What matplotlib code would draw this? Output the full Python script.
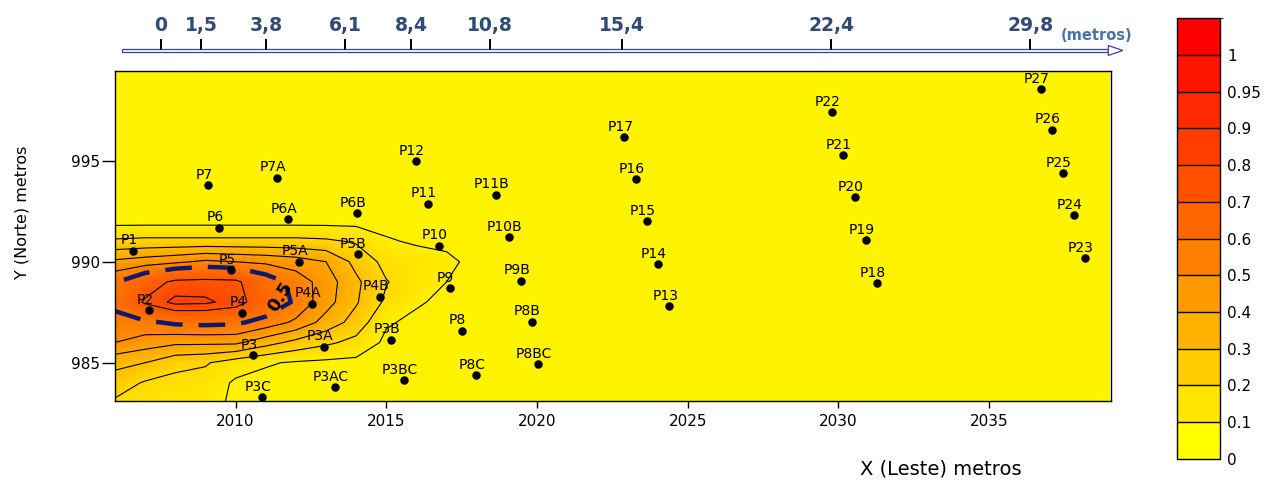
import numpy as np
import matplotlib.pyplot as plt
from matplotlib.colors import LinearSegmentedColormap, ListedColormap, BoundaryNorm
from matplotlib.patches import Rectangle, Polygon
import matplotlib.cm as cm

# pontos de amostragem (X leste, Y norte)
nomes = ['P1', 'P2', 'P3', 'P3A', 'P3AC', 'P3B', 'P3BC', 'P3C', 'P4', 'P4A', 'P4B',
         'P5', 'P5A', 'P5B', 'P6', 'P6A', 'P6B', 'P7', 'P7A', 'P8', 'P8B', 'P8BC', 'P8C',
         'P9', 'P9B', 'P10', 'P10B', 'P11', 'P11B', 'P12', 'P13', 'P14', 'P15', 'P16',
         'P17', 'P18', 'P19', 'P20', 'P21', 'P22', 'P23', 'P24', 'P25', 'P26', 'P27']
pts_x = [2006.61, 2007.14, 2010.59, 2012.93, 2013.31, 2015.16, 2015.59, 2010.89, 2010.23,
         2012.55, 2014.79, 2009.85, 2012.11, 2014.05, 2009.46, 2011.74, 2014.04, 2009.10,
         2011.39, 2017.50, 2019.82, 2020.03, 2017.99, 2017.11, 2019.46, 2016.74, 2019.07,
         2016.37, 2018.64, 2015.99, 2024.39, 2024.02, 2023.64, 2023.27, 2022.90, 2031.28,
         2030.91, 2030.55, 2030.15, 2029.78, 2038.17, 2037.80, 2037.44, 2037.07, 2036.71]
pts_y = [990.54, 987.61, 985.38, 985.80, 983.78, 986.13, 984.14, 983.28, 987.48,
         987.93, 988.26, 989.59, 990.00, 990.37, 991.68, 992.11, 992.42, 993.79,
         994.17, 986.58, 987.04, 984.91, 984.37, 988.69, 989.07, 990.79, 991.22,
         992.88, 993.33, 994.97, 987.80, 989.89, 992.00, 994.08, 996.17, 988.95,
         991.07, 993.20, 995.27, 997.40, 990.18, 992.31, 994.38, 996.55, 998.56]

grid_x = [2006, 2007, 2008, 2009, 2010, 2011, 2012, 2013, 2014, 2015, 2016, 2017, 2018, 2020, 2039]
grid_y = [983.1, 984, 985, 986, 987, 988, 989, 990, 991, 992, 993, 999.4]
conc_cols = [
    [0.19, 0.25, 0.33, 0.50, 0.55, 0.64, 0.59, 0.42, 0.22, 0.07, 0.07, 0.07],
    [0.16, 0.19, 0.30, 0.45, 0.58, 0.82, 0.72, 0.45, 0.23, 0.07, 0.07, 0.07],
    [0.14, 0.17, 0.23, 0.42, 0.62, 0.93, 0.83, 0.48, 0.23, 0.07, 0.07, 0.07],
    [0.14, 0.16, 0.21, 0.42, 0.63, 0.92, 0.84, 0.52, 0.23, 0.07, 0.07, 0.07],
    [0.08, 0.085, 0.15, 0.42, 0.62, 0.86, 0.83, 0.50, 0.23, 0.07, 0.07, 0.07],
    [0.07, 0.07, 0.11, 0.34, 0.56, 0.70, 0.67, 0.48, 0.23, 0.07, 0.07, 0.07],
    [0.07, 0.07, 0.09, 0.27, 0.48, 0.58, 0.56, 0.45, 0.23, 0.07, 0.07, 0.07],
    [0.07, 0.07, 0.08, 0.22, 0.36, 0.44, 0.45, 0.40, 0.22, 0.07, 0.07, 0.07],
    [0.07, 0.07, 0.075, 0.17, 0.26, 0.31, 0.32, 0.27, 0.19, 0.07, 0.07, 0.07],
    [0.07, 0.07, 0.07, 0.08, 0.11, 0.18, 0.205, 0.17, 0.11, 0.07, 0.07, 0.07],
    [0.07, 0.07, 0.07, 0.07, 0.08, 0.11, 0.15, 0.14, 0.09, 0.07, 0.07, 0.07],
    [0.07, 0.07, 0.07, 0.07, 0.07, 0.08, 0.10, 0.115, 0.085, 0.07, 0.07, 0.07],
    [0.07, 0.07, 0.07, 0.07, 0.07, 0.07, 0.08, 0.08, 0.075, 0.07, 0.07, 0.07],
    [0.07, 0.07, 0.07, 0.07, 0.07, 0.07, 0.07, 0.07, 0.07, 0.07, 0.07, 0.07],
    [0.07, 0.07, 0.07, 0.07, 0.07, 0.07, 0.07, 0.07, 0.07, 0.07, 0.07, 0.07],
]

# escala de cores
cb_bounds = [0, 0.1, 0.2, 0.3, 0.4, 0.5, 0.6, 0.7, 0.8, 0.9, 0.95, 1.0, 1.05]
cb_ticks = [0, 0.1, 0.2, 0.3, 0.4, 0.5, 0.6, 0.7, 0.8, 0.9, 0.95, 1.0]
cb_labels = ['0', '0.1', '0.2', '0.3', '0.4', '0.5', '0.6', '0.7', '0.8', '0.9', '0.95', '1']
box_colors = ['#ffff00', '#ffe500', '#ffcc00', '#ffb200', '#ff9900', '#ff8000',
              '#ff6600', '#ff5000', '#ff3d00', '#ff2800', '#ff1400', '#ff0000']

# cores do sombreado do mapa (valor -> cor)
sombra_v = [0.0, 0.15, 0.25, 0.35, 0.45, 0.55, 0.70, 0.85, 0.95, 1.05]
sombra_c = ['#ffff00', '#ffe500', '#ffcc00', '#ffb200', '#ff9900', '#ff8000',
            '#ff6600', '#ff5000', '#ff3d00', '#ff2800']

# eixo superior de distancias
top_labels = ['0', '1,5', '3,8', '6,1', '8,4', '10,8', '15,4', '22,4', '29,8']
top_pos = [2007.53, 2008.85, 2011.01, 2013.63, 2015.82, 2018.44, 2022.82, 2029.76, 2036.36]

linhas = [0.1, 0.2, 0.3, 0.4, 0.5, 0.8, 0.9]
pluma = [0.6]

xlim = (2006, 2039.04)
ylim = (983.1, 999.45)

fig = plt.figure(figsize=(12.76, 4.82), dpi=100)
ax = fig.add_axes([0.0901, 0.168, 0.7806, 0.6846])

X, Y = np.meshgrid(grid_x, grid_y)
Z = np.array(conc_cols).T

cmap_cont = LinearSegmentedColormap.from_list(
    'conc', [(v / sombra_v[-1], c) for v, c in zip(sombra_v, sombra_c)])
ax.contourf(X, Y, Z, levels=np.linspace(0, 1.05, 211), cmap=cmap_cont, vmin=0, vmax=1.05,
            antialiased=False)
ax.contour(X, Y, Z, levels=linhas, colors='black', linewidths=0.8)
ax.contour(X, Y, Z, levels=pluma, colors='#0d1a6e', linewidths=3.2,
           linestyles=[(0, (6, 3.6))])
ax.text(2011.48, 988.27, '0.5', rotation=58, fontsize=13, fontweight='bold',
        ha='center', va='center')

ax.scatter(pts_x, pts_y, s=26, c='black', zorder=5, clip_on=False)
for n, x, y in zip(nomes, pts_x, pts_y):
    ax.annotate(n, (x, y), xytext=(-3, 7.5), textcoords='offset points',
                ha='center', va='center', fontsize=10, zorder=6)

ax.set_xlim(xlim)
ax.set_ylim(ylim)
ax.set_xticks([2010, 2015, 2020, 2025, 2030, 2035])
ax.set_yticks([985, 990, 995])
ax.tick_params(axis='x', direction='out', length=5, width=1, labelsize=11, pad=4)
ax.tick_params(axis='y', direction='out', length=9.5, width=1, labelsize=11, pad=1.5)
for s in ax.spines.values():
    s.set_linewidth(1)

fig.text(0.0172, 0.560, 'Y (Norte) metros', rotation=90, ha='center', va='center', fontsize=11.5)
fig.text(0.737, 0.027, 'X (Leste) metros', ha='center', va='center', fontsize=14)

# eixo de distancias no topo
ax_top = fig.add_axes([0.0901, 0.8797, 0.7806, 0.1203])
ax_top.set_xlim(xlim)
ax_top.set_ylim(58, 0)
ax_top.axis('off')
azul = '#3b3fa6'
x0 = 2006.22
x1 = 2038.95
ax_top.add_patch(Rectangle((x0, 48.8), x1 - x0, 3.4, facecolor='white', edgecolor=azul,
                           lw=0.9, clip_on=False))
ax_top.add_patch(Polygon([(x1, 45.5), (x1 + 0.48, 50.5), (x1, 55.5)], closed=True,
                         facecolor='white', edgecolor=azul, lw=0.9, clip_on=False))
ax_top.vlines(top_pos, 39.5, 50.5, color='black', lw=1.4, clip_on=False)
for lab, x in zip(top_labels, top_pos):
    ax_top.text(x, 26, lab, ha='center', va='center', fontsize=13.5, fontweight='bold',
                color='#2e4a78', clip_on=False)
ax_top.text(2038.57, 36, '(metros)', ha='center', va='center', fontsize=10.5,
            fontweight='bold', color='#4a72aa', clip_on=False)

# barra de cores
cax = fig.add_axes([0.9224, 0.0483, 0.0337, 0.9137])
cmap_box = ListedColormap(box_colors)
norm_box = BoundaryNorm(cb_bounds, cmap_box.N)
sm = cm.ScalarMappable(norm=norm_box, cmap=cmap_box)
cb = fig.colorbar(sm, cax=cax, spacing='uniform', drawedges=True, ticks=cb_ticks)
cb.ax.set_yticklabels(cb_labels)
cb.ax.tick_params(length=0, labelsize=11, pad=5)
cb.outline.set_linewidth(1)
cb.dividers.set_linewidth(1)

plt.savefig('out.png', dpi=100)
